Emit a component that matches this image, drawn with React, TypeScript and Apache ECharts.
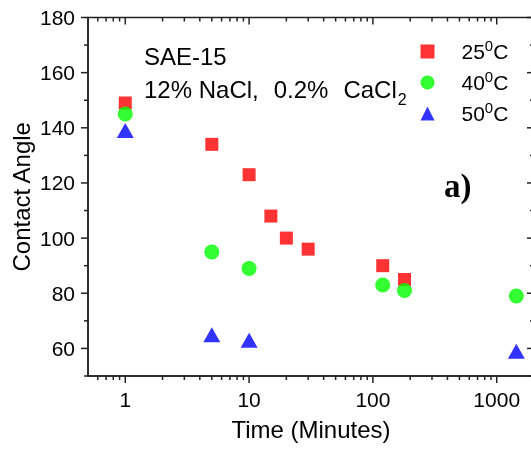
import React, { useEffect, useRef } from "react";
import * as echarts from "echarts";

// Data
const times25 = [1, 5, 10, 15, 20, 30, 120, 180];
const angle25 = [149, 134, 123, 108, 100, 96, 90, 85];
const times40 = [1, 5, 10, 120, 180, 1440];
const angle40 = [145, 95, 89, 83, 81, 79];
const times50 = [1, 5, 10, 1440];
const angle50 = [139, 65, 63, 59];

const seriesNames = ["25°C", "40°C", "50°C"];

// Axis ticks
const xMajorTicks = [1, 10, 100, 1000];
const xMinorTicks = [
  0.6, 0.7, 0.8, 0.9,
  2, 3, 4, 5, 6, 7, 8, 9,
  20, 30, 40, 50, 60, 70, 80, 90,
  200, 300, 400, 500, 600, 700, 800, 900,
];
const yMajorTicks = [60, 80, 100, 120, 140, 160, 180];
const yMinorTicks = [50, 70, 90, 110, 130, 150, 170];

const X_MIN = 0.5;
const X_MAX = 2000;
const Y_MIN = 50;
const Y_MAX = 180;

const FONT = "Liberation Sans, Arial, Helvetica, sans-serif";
const AXIS_COLOR = "#222";
const MAJOR_LEN = 7;
const MINOR_LEN = 4;

export default function App() {
  const ref = useRef<HTMLDivElement>(null);

  useEffect(() => {
    document.body.style.margin = "0";
    document.body.style.overflow = "hidden";
    document.documentElement.style.overflow = "hidden";
    if (!ref.current) return;
    const chart = echarts.init(ref.current, undefined, { renderer: "svg" });

    const lineStyle = () => ({ stroke: AXIS_COLOR, lineWidth: 1.5, fill: "none" });
    const axisLineStyle = () => ({ color: AXIS_COLOR, width: 1.5 });

    const majorLabel = (v: number) => {
      const r = Math.round(v);
      return xMajorTicks.indexOf(r) >= 0 && Math.abs(v - r) < 1e-6 ? String(r) : "";
    };

    const makeData = (xs: number[], ys: number[]) => xs.map((t, i) => [t, ys[i]]);

    // ticks on bottom (outward) and top (inward) for x values
    const xTickSeries = (values: number[], len: number): any => ({
      type: "custom",
      xAxisIndex: 0,
      yAxisIndex: 0,
      silent: true,
      clip: false,
      z: 10,
      data: values.map((v) => [v, Y_MIN]),
      renderItem: (_p: any, api: any) => {
        const v = api.value(0);
        const b = api.coord([v, Y_MIN]);
        const t = api.coord([v, Y_MAX]);
        return {
          type: "group",
          children: [
            { type: "line", shape: { x1: b[0], y1: b[1], x2: b[0], y2: b[1] + len }, style: lineStyle() },
            { type: "line", shape: { x1: t[0], y1: t[1], x2: t[0], y2: t[1] + len }, style: lineStyle() },
          ],
        };
      },
    });

    // ticks on left (outward) and right (inward) for y values
    const yTickSeries = (values: number[], len: number): any => ({
      type: "custom",
      xAxisIndex: 0,
      yAxisIndex: 0,
      silent: true,
      clip: false,
      z: 10,
      data: values.map((v) => [X_MIN, v]),
      renderItem: (_p: any, api: any) => {
        const v = api.value(1);
        const l = api.coord([X_MIN, v]);
        const r = api.coord([X_MAX, v]);
        return {
          type: "group",
          children: [
            { type: "line", shape: { x1: l[0] - len, y1: l[1], x2: l[0], y2: l[1] }, style: lineStyle() },
            { type: "line", shape: { x1: r[0] - len, y1: r[1], x2: r[0], y2: r[1] }, style: lineStyle() },
          ],
        };
      },
    });

    // plot frame drawn as four lines from the axis extents
    const frameSeries: any = {
      type: "custom",
      xAxisIndex: 0,
      yAxisIndex: 0,
      silent: true,
      clip: false,
      z: 10,
      data: [[X_MIN, Y_MIN]],
      renderItem: (_p: any, api: any) => {
        const a = api.coord([X_MIN, Y_MAX]);
        const b = api.coord([X_MAX, Y_MIN]);
        return {
          type: "group",
          children: [
            { type: "line", shape: { x1: a[0], y1: a[1], x2: b[0], y2: a[1] }, style: lineStyle() },
            { type: "line", shape: { x1: a[0], y1: b[1], x2: b[0], y2: b[1] }, style: lineStyle() },
            { type: "line", shape: { x1: a[0], y1: a[1], x2: a[0], y2: b[1] }, style: lineStyle() },
            { type: "line", shape: { x1: b[0], y1: a[1], x2: b[0], y2: b[1] }, style: lineStyle() },
          ],
        };
      },
    };

    const option: any = {
      animation: false,
      grid: {
        left: 88,
        top: 17.5,
        width: 446,
        height: 358.5,
      },
      xAxis: [
        {
          type: "log",
          logBase: 10,
          position: "bottom",
          min: X_MIN,
          max: X_MAX,
          name: "Time (Minutes)",
          nameLocation: "middle",
          nameGap: 41,
          nameTextStyle: { fontFamily: FONT, fontSize: 24, color: "#000" },
          axisLine: { show: true, onZero: false, lineStyle: axisLineStyle() },
          axisTick: { show: false },
          axisLabel: {
            show: true,
            margin: 13,
            fontFamily: FONT,
            fontSize: 21,
            color: "#000",
            showMinLabel: true,
            showMaxLabel: true,
            formatter: majorLabel,
          },
          splitLine: { show: false },
        },
      ],
      yAxis: [
        {
          type: "value",
          position: "left",
          min: Y_MIN,
          max: Y_MAX,
          name: "Contact Angle",
          nameLocation: "middle",
          nameGap: 55,
          nameMoveOverlap: false,
          nameTextStyle: { fontFamily: FONT, fontSize: 24, color: "#000" },
          axisLine: { show: true, onZero: false, lineStyle: axisLineStyle() },
          axisTick: { show: false },
          axisLabel: {
            show: true,
            margin: 13,
            fontFamily: FONT,
            fontSize: 21,
            color: "#000",
            customValues: yMajorTicks,
          },
          splitLine: { show: false },
        },
      ],
      legend: {
        orient: "vertical",
        left: 420.5,
        top: 38,
        padding: 0,
        itemWidth: 14,
        itemHeight: 14,
        itemGap: 5.5,
        data: seriesNames,
        formatter: (name: string) => "{gap|}" + name.replace("°", "{sup|0}"),
        textStyle: {
          fontFamily: FONT,
          fontSize: 21,
          color: "#000",
          lineHeight: 24,
          rich: {
            gap: { width: 22 },
            sup: {
              fontFamily: FONT,
              fontSize: 15,
              color: "#000",
              verticalAlign: "middle",
              padding: [0, 0, 12, 0],
            },
          },
        },
      },
      graphic: [
        {
          type: "text",
          left: 144,
          top: 44,
          style: {
            text: "SAE-15",
            fontFamily: FONT,
            fontSize: 24,
            fill: "#000",
          },
        },
        {
          type: "text",
          left: 144,
          top: 77,
          style: {
            text: "12% NaCl,{sp| }0.2%{sp| }CaCl{sub|2}",
            fontFamily: FONT,
            fontSize: 24,
            fill: "#000",
            rich: {
              sp: { fontFamily: FONT, fontSize: 24, width: 15 },
              sub: {
                fontFamily: FONT,
                fontSize: 16,
                fill: "#000",
                verticalAlign: "middle",
                padding: [20, 0, 0, 1],
              },
            },
          },
        },
        {
          type: "text",
          left: 444,
          top: 169,
          style: {
            text: "a)",
            fontFamily: "Liberation Serif, Times New Roman, serif",
            fontWeight: "bold",
            fontSize: 33,
            fill: "#000",
          },
        },
      ],
      series: [
        {
          name: seriesNames[0],
          type: "scatter",
          xAxisIndex: 0,
          yAxisIndex: 0,
          symbol: "rect",
          symbolSize: 13,
          itemStyle: { color: "#ff0000" },
          data: makeData(times25, angle25),
          z: 2,
        },
        {
          name: seriesNames[1],
          type: "scatter",
          xAxisIndex: 0,
          yAxisIndex: 0,
          symbol: "circle",
          symbolSize: 15,
          itemStyle: { color: "#00ff00" },
          data: makeData(times40, angle40),
          z: 3,
        },
        {
          name: seriesNames[2],
          type: "scatter",
          xAxisIndex: 0,
          yAxisIndex: 0,
          symbol: "triangle",
          symbolSize: [17, 15],
          itemStyle: { color: "#0000ff" },
          data: makeData(times50, angle50),
          z: 4,
        },
        xTickSeries(xMajorTicks, MAJOR_LEN),
        xTickSeries(xMinorTicks, MINOR_LEN),
        yTickSeries(yMajorTicks, MAJOR_LEN),
        yTickSeries(yMinorTicks, MINOR_LEN),
        frameSeries,
      ],
    };

    chart.setOption(option);
    return () => chart.dispose();
  }, []);

  return (
    <div
      ref={ref}
      style={{ width: 540, height: 451, position: "fixed", left: 0, top: 0 }}
    />
  );
}
